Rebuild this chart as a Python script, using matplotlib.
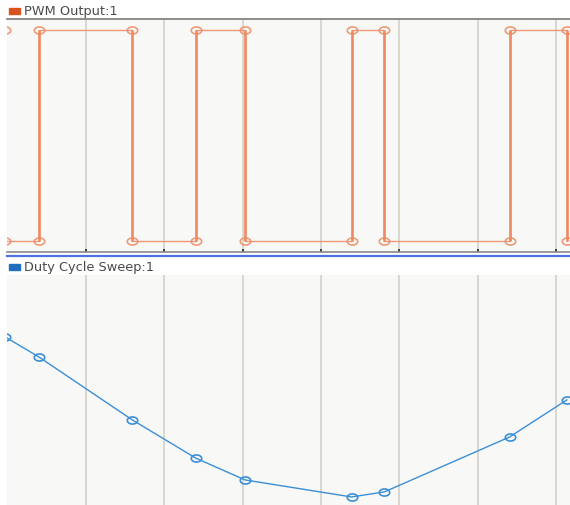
import numpy as np
import matplotlib
matplotlib.use("Agg")
import matplotlib.pyplot as plt
from matplotlib.lines import Line2D
from matplotlib.path import Path

plt.rcParams['font.family'] = ['DejaVu Sans']

# sample times (s) shared by both signals
sample_t = [-0.03, 0.40, 1.59, 2.40, 3.03, 4.39, 4.81, 6.41, 7.14]
# PWM level just before and just after each sample
pwm_before = [1, 0, 1, 0, 1, 0, 1, 0, 1]
pwm_after = [0, 1, 0, 1, 0, 1, 0, 1, 0]
# duty cycle sweep (%)
duty = [73.0, 64.3, 37.0, 20.4, 10.9, 3.5, 5.7, 29.6, 45.7]

grid_t = [1, 2, 3, 4, 5, 6, 7]
x_range = (-0.01, 7.18)

orange = '#ec8a62'
blue = '#3b8fd6'
bg = '#f8f8f7'
gridc = '#d8d4cc'

# flattened ellipse marker, the scope draws wide circles
theta = np.linspace(0, 2 * np.pi, 40)
ell = Path(np.column_stack([np.cos(theta), 0.68 * np.sin(theta)]), closed=True)

fig = plt.figure(figsize=(5.70, 5.06), dpi=100)
left = 7 / 570.0
ax1 = fig.add_axes([left, 253 / 506.0, 1 - left, 233 / 506.0])
ax2 = fig.add_axes([left, 0.0, 1 - left, 230 / 506.0])

for ax in (ax1, ax2):
    ax.set_facecolor(bg)
    ax.set_xlim(*x_range)
    ax.set_xticks(grid_t)
    ax.set_yticks([])
    ax.grid(True, axis='x', color=gridc, linewidth=1.3)
    ax.set_axisbelow(True)
    for s in ax.spines.values():
        s.set_visible(False)

# PWM: vertical edge at every sample, two points per sample
pwm_t = np.repeat(sample_t, 2)
pwm_v = np.ravel(np.column_stack([pwm_before, pwm_after]))
ax1.plot(pwm_t, pwm_v, color=orange, linewidth=1.0, alpha=0.85,
         marker=ell, markersize=7.5, markerfacecolor='none',
         markeredgecolor=orange, markeredgewidth=1.2)
# edges render heavier than the flat parts on the scope
ax1.vlines(sample_t, 0, 1, color=orange, linewidth=2.0, alpha=0.9)
ax1.set_ylim(-0.05, 1.05)
ax1.spines['top'].set_visible(True)
ax1.spines['top'].set_color('#7a7a7a')
ax1.spines['top'].set_linewidth(1.2)
ax1.spines['bottom'].set_visible(True)
ax1.spines['bottom'].set_color('#8a8a8a')
ax1.spines['bottom'].set_linewidth(1.2)
ax1.tick_params(axis='x', direction='in', length=2.5, width=1.2,
                color='#222222', labelbottom=False)

ax2.plot(sample_t, duty, color=blue, linewidth=1.0,
         marker=ell, markersize=7.5, markerfacecolor='none',
         markeredgecolor=blue, markeredgewidth=1.2)
ax2.set_ylim(0, 100)
ax2.tick_params(axis='x', length=0, labelbottom=False)

# blue separator under the top scope
fig.add_artist(Line2D([left, 1], [1 - 256.5 / 506.0] * 2, transform=fig.transFigure,
                      color='#4f72e0', linewidth=1.6))

# signal labels with colour squares
fig.patches.append(plt.Rectangle((9 / 570, 1 - 15 / 506), 11 / 570, 6 / 506,
                                 transform=fig.transFigure, color='#d9531e', figure=fig))
fig.text(24 / 570, 1 - 11.5 / 506, 'PWM Output:1', fontsize=9.3, color='#4a4a4a',
         va='center', ha='left')
fig.patches.append(plt.Rectangle((9 / 570, 1 - 271 / 506), 11 / 570, 6 / 506,
                                 transform=fig.transFigure, color='#1f6fbf', figure=fig))
fig.text(24 / 570, 1 - 267.5 / 506, 'Duty Cycle Sweep:1', fontsize=9.3, color='#4a4a4a',
         va='center', ha='left')

fig.savefig('out.png', dpi=100, facecolor='white')
